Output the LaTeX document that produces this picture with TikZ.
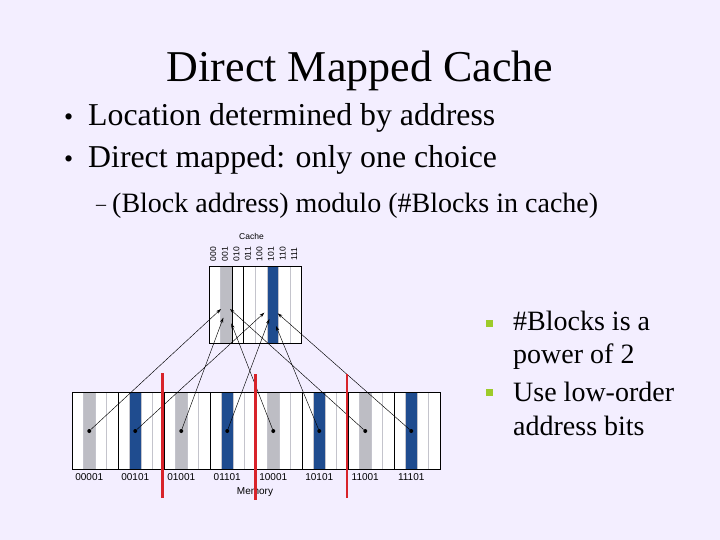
\documentclass[tikz,border=0pt]{standalone}
\usepackage{fontspec}
\setmainfont{Liberation Serif}
\setsansfont{Liberation Sans}
\usetikzlibrary{arrows.meta}

\definecolor{slidebg}{HTML}{F3EEFF}
\definecolor{blockgray}{HTML}{BDBDC4}
\definecolor{blockblue}{HTML}{1F4C8F}
\definecolor{cutred}{HTML}{D8232A}
\definecolor{bulletgreen}{HTML}{9DCB2A}
\definecolor{lightline}{HTML}{C4C4CC}

\tikzset{
  map/.style={line width=0.45pt, -{Stealth[length=5pt,width=3.2pt]}},
  memdot/.style={circle, fill=black, inner sep=0pt, minimum size=4pt},
  memlabel/.style={font=\sffamily\fontsize{10}{10}\selectfont, inner sep=0pt},
  cachelabel/.style={font=\sffamily\fontsize{8.5}{8.5}\selectfont, inner sep=0pt, rotate=90},
  cut/.style={cutred, line width=2.8pt},
  sqbullet/.style={fill=bulletgreen, inner sep=0pt, minimum size=7pt},
  bigtext/.style={anchor=base west, inner sep=0pt, font=\fontsize{31.8}{31.8}\selectfont},
  subtext/.style={anchor=base west, inner sep=0pt, font=\fontsize{28}{28}\selectfont}
}

\begin{document}
\begin{tikzpicture}[x=1pt,y=-1pt]
\fill[slidebg] (0,0) rectangle (720,540);
\useasboundingbox (0,0) rectangle (720,540);

% title and bullets
\node[anchor=base, inner sep=0pt, font=\fontsize{44}{44}\selectfont] (title) at (360,82) {Direct Mapped Cache};
\node[bigtext, font=\fontsize{26}{26}\selectfont] (dot1) at (64,125.5) {\textbullet};
\node[bigtext] (loc) at (88,125.5) {Location determined by address};
\node[bigtext, font=\fontsize{26}{26}\selectfont] (dot2) at (64,168) {\textbullet};
\node[bigtext] (dm) at (88,168) {Direct mapped: only one choice};
\node[subtext, font=\fontsize{20}{20}\selectfont] (dash) at (96,211) {--};
\node[subtext] (modulo) at (112,212) {(Block address) modulo (\#Blocks in cache)};

% right hand bullets
\node[sqbullet] (sq1) at (489,323) {};
\node[subtext] (pow1) at (513,330) {\#Blocks is a};
\node[subtext] (pow2) at (513,363.5) {power of 2};
\node[sqbullet] (sq2) at (489,392) {};
\node[subtext] (low1) at (513,401.5) {Use low-order};
\node[subtext] (low2) at (513,435) {address bits};

% cache
\fill[white] (209,266.5) rectangle (301.4,343);
\fill[blockgray] (220.55,266.5) rectangle +(11.55,76.5);
\fill[blockblue] (266.75,266.5) rectangle +(11.55,76.5);
\foreach \k in {1,4,5,6,7}
  \draw[lightline, line width=0.5pt] ({209+\k*11.55},266.5) -- ++(0,76.5);
\foreach \k in {2,3}
  \draw[line width=0.8pt] ({209+\k*11.55},266.5) -- ++(0,76.5);
\draw[line width=0.6pt] (209,266.5) rectangle (301.4,343);
\foreach \k/\lab in {0/000,1/001,2/010,3/011,4/100,5/101,6/110,7/111}
  \node[cachelabel] (cl\k) at ({209+(\k+0.5)*11.55-1.5},254) {\lab};
\node[font=\sffamily\fontsize{8.5}{8.5}\selectfont] (cachename) at (251.5,236.5) {Cache};

% memory
\fill[white] (72,392.5) rectangle (440,469);
\foreach \c in {1,9,17,25}
  \fill[blockgray] ({72+\c*11.5},392.5) rectangle +(11.5,76.5);
\foreach \c in {5,13,21,29}
  \fill[blockblue] ({72+\c*11.5},392.5) rectangle +(11.5,76.5);
\foreach \k in {1,...,31}{
  \pgfmathtruncatemacro\rem{mod(\k,4)}
  \ifnum\rem=0 \def\lc{black}\else\def\lc{lightline}\fi
  \draw[\lc, line width=0.6pt] ({72+\k*11.5},392.5) -- ++(0,76.5);
}
\draw[line width=0.6pt] (72,392.5) rectangle (440,469);
\foreach \c/\lab in {1/00001,5/00101,9/01001,13/01101,17/10001,21/10101,25/11001,29/11101}{
  \node[memdot] (m\c) at ({72+(\c+0.5)*11.5},431) {};
  \node[memlabel] (ml\c) at ({72+(\c+0.5)*11.5},477) {\lab};
}
\node[memlabel] (memname) at (255,492) {Memory};

% where the arrows end in the cache
\coordinate (t1) at (221,309);
\coordinate (t9) at (223.3,317.7);
\coordinate (t17) at (231.3,323.3);
\coordinate (t25) at (230,309);
\coordinate (t5) at (264.3,312.7);
\coordinate (t13) at (269.3,319);
\coordinate (t21) at (276,326);
\coordinate (t29) at (277.7,313.3);
\foreach \c in {1,5,9,13,17,21,25,29}
  \draw[map] (m\c) -- (t\c);

% block boundaries
\draw[cut] (162.5,373) -- (162.5,498);
\draw[cut] (255.5,374) -- (255.5,500);
\draw[cut] (347,374) -- (347,498);
\end{tikzpicture}
\end{document}
